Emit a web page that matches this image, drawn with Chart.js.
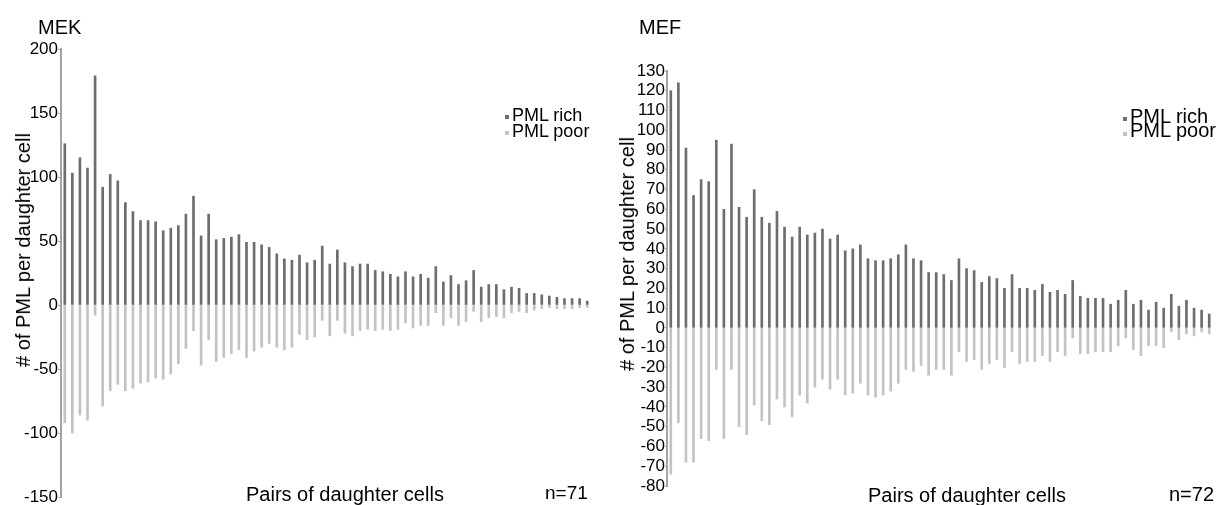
<!DOCTYPE html>
<html>
<head>
<meta charset="utf-8">
<script src="https://cdn.jsdelivr.net/npm/chart.js@4.4.1/dist/chart.umd.min.js"></script>
<style>
  html, body { margin: 0; padding: 0; background: #fff; }
  body { width: 1218px; height: 505px; position: relative; overflow: hidden;
         font-family: "Liberation Sans", Arial, sans-serif; color: #000; }
  canvas { position: absolute; top: 0; }
  .txt { position: absolute; white-space: nowrap; line-height: 1; font-size: 20px; }
  .ytitle { position: absolute; white-space: nowrap; line-height: 1; font-size: 20px;
            transform: translate(-50%, -50%) rotate(-90deg); }
  .mark { position: absolute; width: 4px; height: 4px; }
</style>
</head>
<body>
<canvas id="mekChart" width="609" height="505" style="left:0"></canvas>
<canvas id="mefChart" width="609" height="505" style="left:609px"></canvas>

<div class="txt" style="left:38px;top:17px">MEK</div>
<div class="txt" style="left:639px;top:17px">MEF</div>

<div class="ytitle" style="left:23px;top:250px"># of PML per daughter cell</div>
<div class="ytitle" style="left:627px;top:254px"># of PML per daughter cell</div>

<div class="mark" style="left:505px;top:115px;background:#6d6d6d"></div>
<div class="mark" style="left:505px;top:131px;background:#c3c3c3"></div>
<div class="txt" style="left:512px;top:106px;font-size:18px">PML rich</div>
<div class="txt" style="left:512px;top:122px;font-size:18px">PML poor</div>

<div class="mark" style="left:1123px;top:117px;background:#6d6d6d"></div>
<div class="mark" style="left:1123px;top:132px;background:#c3c3c3"></div>
<div class="txt" style="left:1130px;top:106px">PML rich</div>
<div class="txt" style="left:1130px;top:120px">PML poor</div>

<div class="txt" style="left:246px;top:484px">Pairs of daughter cells</div>
<div class="txt" style="left:545px;top:483px;font-size:19px">n=71</div>
<div class="txt" style="left:868px;top:485px">Pairs of daughter cells</div>
<div class="txt" style="left:1169px;top:484px">n=72</div>

<script>
// MEK pairs (sorted by rich value roughly as in figure)
const mekRich = [126,103,115,107,179,92,102,97,80,73,
                 66,66,65,58,60,62,71,85,54,71,
                 51,52,53,55,49,49,47,45,40,36,
                 35,39,33,35,46,32,43,33,30,32,
                 32,27,26,24,22,26,22,24,21,30,
                 18,23,16,19,27,14,16,16,12,14,
                 13,9,9,8,7,6,5,5,5,3];
const mekPoor = [-92,-100,-86,-90,-8,-79,-67,-62,-67,-65,
                 -61,-60,-57,-58,-54,-46,-34,-20,-47,-27,
                 -44,-41,-38,-35,-41,-36,-33,-30,-33,-35,
                 -33,-23,-27,-25,-12,-24,-12,-22,-24,-20,
                 -19,-20,-19,-20,-19,-14,-18,-16,-16,-6,
                 -16,-10,-16,-13,-5,-13,-10,-9,-10,-6,
                 -5,-6,-4,-3,-2,-3,-3,-3,-2,-2];
const mekTicks = [-150,-100,-50,0,50,100,150,200];

// MEF pairs
const mefRich = [120,124,91,67,75,74,95,60,93,61,
                 56,70,56,53,59,51,46,51,47,48,
                 50,45,47,39,40,42,35,34,34,35,
                 37,42,35,34,28,28,27,24,35,30,
                 29,23,26,25,20,27,20,20,19,22,
                 18,19,17,24,16,15,15,15,12,14,
                 19,12,14,9,13,10,17,11,14,10,
                 9,7];
const mefPoor = [-74,-48,-68,-68,-56,-57,-21,-56,-21,-50,
                 -54,-39,-47,-49,-36,-40,-45,-34,-38,-30,
                 -26,-31,-26,-34,-33,-28,-34,-35,-34,-32,
                 -28,-21,-22,-19,-24,-21,-21,-24,-12,-17,
                 -16,-21,-18,-16,-20,-12,-18,-17,-17,-14,
                 -17,-12,-14,-5,-13,-13,-12,-12,-12,-9,
                 -5,-11,-14,-9,-9,-10,-2,-6,-3,-4,
                 -2,-3];
const mefTicks = [-80,-70,-60,-50,-40,-30,-20,-10,0,10,20,30,40,50,60,70,80,90,100,110,120,130];

const mekPairs = mekRich.map((_, i) => String(i + 1));
const mefPairs = mefRich.map((_, i) => String(i + 1));

const darkGray = '#6d6d6d';
const lightGray = '#c3c3c3';
const axisGray = '#a3a3a3';

function makeChart(canvasId, labels, rich, poor, yTicks, area) {
    return new Chart(document.getElementById(canvasId), {
        type: 'bar',
        data: {
            labels: labels,
            datasets: [
                { label: 'PML rich', data: rich, backgroundColor: darkGray, barThickness: 2 },
                { label: 'PML poor', data: poor, backgroundColor: lightGray, barThickness: 2 },
            ],
        },
        options: {
            responsive: false,
            animation: false,
            layout: { padding: { left: 0, top: area.top, right: area.right, bottom: area.bottom } },
            plugins: { legend: { display: false }, tooltip: { enabled: false } },
            scales: {
                x: { display: false, stacked: true },
                y: {
                    stacked: true,
                    min: yTicks[0],
                    max: yTicks[yTicks.length - 1],
                    ticks: {
                        stepSize: yTicks[1] - yTicks[0],
                        autoSkip: false,
                        padding: 0,
                        color: '#000',
                        font: { family: '"Liberation Sans", Arial, sans-serif', size: 17, lineHeight: 1 },
                    },
                    grid: { drawOnChartArea: false, tickLength: area.tick, color: axisGray },
                    border: { color: axisGray, width: 2 },
                    afterFit: (scale) => {
                        scale.width = area.left;
                        scale.paddingTop = 0;
                        scale.paddingBottom = 0;
                    },
                },
            },
        },
    });
}

makeChart('mekChart', mekPairs, mekRich, mekPoor, mekTicks,
          { left: 61, top: 49, right: 18, bottom: 8, tick: 3 });
makeChart('mefChart', mefPairs, mefRich, mefPoor, mefTicks,
          { left: 58, top: 71, right: 5, bottom: 19, tick: 2 });
</script>
</body>
</html>
